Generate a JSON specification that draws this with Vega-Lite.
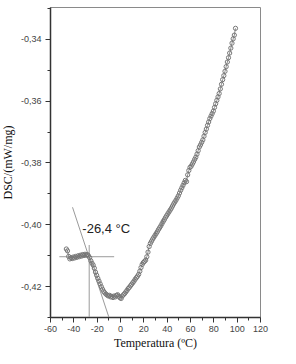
{
  "$schema": "https://vega.github.io/schema/vega-lite/v6.json",
  "width": 210,
  "height": 310,
  "autosize": {"type": "none"},
  "padding": {"left": 50, "top": 7, "right": 36, "bottom": 47},
  "background": "white",
  "config": {
    "view": {"stroke": "#8a8a8a", "strokeWidth": 1},
    "axis": {
      "domainColor": "#333333",
      "domainWidth": 1.5,
      "tickColor": "#333333",
      "tickWidth": 1,
      "labelFont": "Liberation Sans",
      "labelFontSize": 9,
      "labelColor": "#444444",
      "titleFont": "Liberation Serif",
      "titleFontSize": 12,
      "titleFontWeight": "normal",
      "titleColor": "#111111",
      "grid": false
    }
  },
  "datasets": {
    "dsc": [
      {"t": -46, "d": -0.4080}, {"t": -45, "d": -0.4086}, {"t": -44, "d": -0.4104}, {"t": -43, "d": -0.4112},
      {"t": -42, "d": -0.4108}, {"t": -41, "d": -0.4111}, {"t": -40, "d": -0.4106}, {"t": -39, "d": -0.4109},
      {"t": -38, "d": -0.4104}, {"t": -37, "d": -0.4107}, {"t": -36, "d": -0.4102}, {"t": -35, "d": -0.4105},
      {"t": -34, "d": -0.4100}, {"t": -33, "d": -0.4103}, {"t": -32, "d": -0.4098}, {"t": -31, "d": -0.4101},
      {"t": -30, "d": -0.4097}, {"t": -29, "d": -0.4100}, {"t": -28, "d": -0.4098}, {"t": -27, "d": -0.4102},
      {"t": -26, "d": -0.4108}, {"t": -25, "d": -0.4118}, {"t": -24, "d": -0.4126}, {"t": -23, "d": -0.4132},
      {"t": -22, "d": -0.4142}, {"t": -21, "d": -0.4155}, {"t": -20, "d": -0.4165}, {"t": -19, "d": -0.4175},
      {"t": -18, "d": -0.4184}, {"t": -17, "d": -0.4193}, {"t": -16, "d": -0.4202}, {"t": -15, "d": -0.4210},
      {"t": -14, "d": -0.4217}, {"t": -13, "d": -0.4222}, {"t": -12, "d": -0.4226}, {"t": -11, "d": -0.4229},
      {"t": -10, "d": -0.4232}, {"t": -9, "d": -0.4230}, {"t": -8, "d": -0.4235}, {"t": -7, "d": -0.4233},
      {"t": -6, "d": -0.4237}, {"t": -5, "d": -0.4232}, {"t": -4, "d": -0.4235}, {"t": -3, "d": -0.4230},
      {"t": -2, "d": -0.4228}, {"t": -1, "d": -0.4233}, {"t": 0, "d": -0.4238}, {"t": 1, "d": -0.4240},
      {"t": 2, "d": -0.4232}, {"t": 3, "d": -0.4228}, {"t": 4, "d": -0.4224}, {"t": 5, "d": -0.4219},
      {"t": 6, "d": -0.4214}, {"t": 7, "d": -0.4208}, {"t": 8, "d": -0.4204}, {"t": 9, "d": -0.4199},
      {"t": 10, "d": -0.4194}, {"t": 11, "d": -0.4189}, {"t": 12, "d": -0.4184}, {"t": 13, "d": -0.4178},
      {"t": 14, "d": -0.4173}, {"t": 15, "d": -0.4168}, {"t": 16, "d": -0.4162}, {"t": 17, "d": -0.4152},
      {"t": 18, "d": -0.4140}, {"t": 19, "d": -0.4130}, {"t": 20, "d": -0.4124}, {"t": 21, "d": -0.4120},
      {"t": 22, "d": -0.4116}, {"t": 23, "d": -0.4105}, {"t": 24, "d": -0.4090}, {"t": 25, "d": -0.4072},
      {"t": 26, "d": -0.4062}, {"t": 27, "d": -0.4055}, {"t": 28, "d": -0.4048}, {"t": 29, "d": -0.4042},
      {"t": 30, "d": -0.4036}, {"t": 31, "d": -0.4030}, {"t": 32, "d": -0.4024}, {"t": 33, "d": -0.4017},
      {"t": 34, "d": -0.4011}, {"t": 35, "d": -0.4005}, {"t": 36, "d": -0.3998}, {"t": 37, "d": -0.3991},
      {"t": 38, "d": -0.3985}, {"t": 39, "d": -0.3978}, {"t": 40, "d": -0.3972}, {"t": 41, "d": -0.3966},
      {"t": 42, "d": -0.3960}, {"t": 43, "d": -0.3954}, {"t": 44, "d": -0.3948}, {"t": 45, "d": -0.3941},
      {"t": 46, "d": -0.3934}, {"t": 47, "d": -0.3928}, {"t": 48, "d": -0.3922}, {"t": 49, "d": -0.3915},
      {"t": 50, "d": -0.3908}, {"t": 51, "d": -0.3899}, {"t": 52, "d": -0.3890}, {"t": 53, "d": -0.3882},
      {"t": 54, "d": -0.3874}, {"t": 55, "d": -0.3866}, {"t": 56, "d": -0.3858}, {"t": 57, "d": -0.3862},
      {"t": 58, "d": -0.3840}, {"t": 59, "d": -0.3826}, {"t": 60, "d": -0.3816}, {"t": 61, "d": -0.3812},
      {"t": 62, "d": -0.3805}, {"t": 63, "d": -0.3798}, {"t": 64, "d": -0.3790}, {"t": 65, "d": -0.3783},
      {"t": 66, "d": -0.3773}, {"t": 67, "d": -0.3762}, {"t": 68, "d": -0.3750}, {"t": 69, "d": -0.3743},
      {"t": 70, "d": -0.3735}, {"t": 71, "d": -0.3727}, {"t": 72, "d": -0.3715}, {"t": 73, "d": -0.3703},
      {"t": 74, "d": -0.3692}, {"t": 75, "d": -0.3680}, {"t": 76, "d": -0.3669}, {"t": 77, "d": -0.3658},
      {"t": 78, "d": -0.3650}, {"t": 79, "d": -0.3642}, {"t": 80, "d": -0.3634}, {"t": 81, "d": -0.3622},
      {"t": 82, "d": -0.3610}, {"t": 83, "d": -0.3599}, {"t": 84, "d": -0.3588}, {"t": 85, "d": -0.3577},
      {"t": 86, "d": -0.3562}, {"t": 87, "d": -0.3547}, {"t": 88, "d": -0.3532}, {"t": 89, "d": -0.3519},
      {"t": 90, "d": -0.3505}, {"t": 91, "d": -0.3490}, {"t": 92, "d": -0.3475}, {"t": 93, "d": -0.3461},
      {"t": 94, "d": -0.3446}, {"t": 95, "d": -0.3430}, {"t": 96, "d": -0.3414}, {"t": 97, "d": -0.3400},
      {"t": 98, "d": -0.3388}, {"t": 99, "d": -0.3366}
    ],
    "guides": [
      {"x1": -40.7, "y1": -0.3945, "x2": -9.6, "y2": -0.4300},
      {"x1": -52, "y1": -0.4105, "x2": -5, "y2": -0.4105},
      {"x1": -26.4, "y1": -0.4067, "x2": -26.4, "y2": -0.4300}
    ],
    "label": [
      {"x": -32.3, "y": -0.4016, "text": "-26,4 °C"}
    ]
  },
  "layer": [
    {
      "data": {"name": "guides"},
      "mark": {"type": "rule", "color": "#9a9a9a", "strokeWidth": 1},
      "encoding": {
        "x": {"field": "x1", "type": "quantitative", "scale": {"domain": [-60, 120], "nice": false},
          "axis": {
            "title": "Temperatura (ºC)",
            "values": [-60, -50, -40, -30, -20, -10, 0, 10, 20, 30, 40, 50, 60, 70, 80, 90, 100, 110, 120],
            "tickCount": 50,
            "labelExpr": "(datum.value % 20 == 0) ? (datum.value < 0 ? '-' + abs(datum.value) : '' + datum.value) : ''",
            "labelOverlap": false,
            "tickSize": {"condition": {"test": "datum.value % 20 != 0", "value": 3}, "value": 5},
            "labelPadding": 2,
            "titlePadding": 4,
            "labelFlush": false
          }},
        "y": {"field": "y1", "type": "quantitative", "scale": {"domain": [-0.43, -0.3297], "nice": false, "zero": false},
          "axis": {
            "title": "DSC/(mW/mg)",
            "values": [-0.43, -0.42, -0.41, -0.40, -0.39, -0.38, -0.37, -0.36, -0.35, -0.34, -0.33],
            "tickCount": 50,
            "labelExpr": "(abs(round(datum.value * 100)) % 2 == 0) ? ('-0,' + abs(round(datum.value * 100))) : ''",
            "labelOverlap": false,
            "tickSize": {"condition": {"test": "abs(round(datum.value * 100)) % 2 != 0", "value": 3}, "value": 5},
            "labelPadding": 4,
            "titlePadding": 6,
            "labelFlush": false
          }},
        "x2": {"field": "x2"},
        "y2": {"field": "y2"}
      }
    },
    {
      "data": {"name": "dsc"},
      "mark": {"type": "line", "color": "#8a8a8a", "strokeWidth": 1},
      "encoding": {
        "x": {"field": "t", "type": "quantitative"},
        "y": {"field": "d", "type": "quantitative"}
      }
    },
    {
      "data": {"name": "dsc"},
      "mark": {"type": "point", "shape": "circle", "filled": false, "color": "#777777", "size": 18, "strokeWidth": 1, "opacity": 1},
      "encoding": {
        "x": {"field": "t", "type": "quantitative"},
        "y": {"field": "d", "type": "quantitative"}
      }
    },
    {
      "data": {"name": "label"},
      "mark": {"type": "text", "align": "left", "baseline": "middle", "font": "Liberation Sans", "fontSize": 13, "color": "#222222"},
      "encoding": {
        "x": {"field": "x", "type": "quantitative"},
        "y": {"field": "y", "type": "quantitative"},
        "text": {"field": "text"}
      }
    }
  ]
}
